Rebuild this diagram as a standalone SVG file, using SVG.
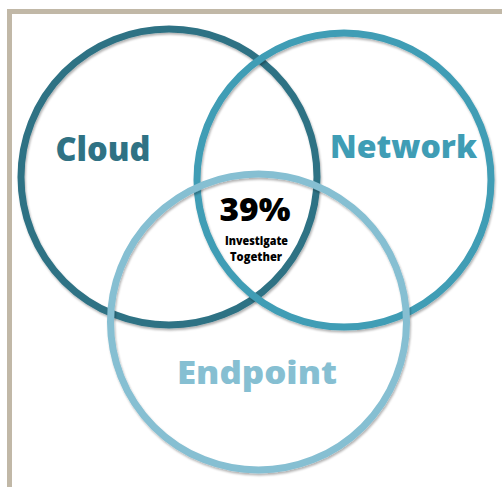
<svg xmlns="http://www.w3.org/2000/svg" width="502" height="487" viewBox="0 0 502 487">
<style>
.ring{fill:none;stroke-width:7}
.lbl{font-family:"Open Sans","Noto Sans",sans-serif;font-weight:800}
</style>
<defs>
<filter id="sh" x="-10%" y="-10%" width="120%" height="120%">
<feDropShadow dx="1" dy="2" stdDeviation="1.2" flood-color="#000" flood-opacity="0.3"/>
</filter>
</defs>
<rect width="502" height="487" fill="#fff"/>
<g id="frame">
<path d="M9.5 487 V11.5 H502" fill="none" stroke="#c1b8a7" stroke-width="5"/>
</g>
<g id="cloud">
<circle class="ring" cx="169" cy="177" r="148" stroke="#2f7284" filter="url(#sh)"/>
<text class="lbl" x="103" y="161" font-size="33" fill="#2f7284" text-anchor="middle" textLength="95" lengthAdjust="spacingAndGlyphs">Cloud</text>
</g>
<g id="network">
<circle class="ring" cx="344" cy="180" r="147" stroke="#3f9db5" filter="url(#sh)"/>
<text class="lbl" x="403.5" y="158" font-size="32" fill="#3f9db5" text-anchor="middle" textLength="147" lengthAdjust="spacingAndGlyphs">Network</text>
</g>
<g id="endpoint">
<circle class="ring" cx="258.5" cy="322" r="148" stroke="#86bfd2" filter="url(#sh)"/>
<text class="lbl" x="257" y="384" font-size="31" fill="#86bfd2" text-anchor="middle" textLength="160" lengthAdjust="spacingAndGlyphs">Endpoint</text>
</g>
<g id="center">
<text class="lbl" x="255" y="221" font-size="31" fill="#000" text-anchor="middle" textLength="71" lengthAdjust="spacingAndGlyphs">39%</text>
<text class="lbl" x="256.5" y="245" font-size="11.5" fill="#000" text-anchor="middle" textLength="63" lengthAdjust="spacingAndGlyphs">Investigate</text>
<text class="lbl" x="256" y="261" font-size="11.5" fill="#000" text-anchor="middle" textLength="52" lengthAdjust="spacingAndGlyphs">Together</text>
</g>
<g id="connectors"/>
</svg>
